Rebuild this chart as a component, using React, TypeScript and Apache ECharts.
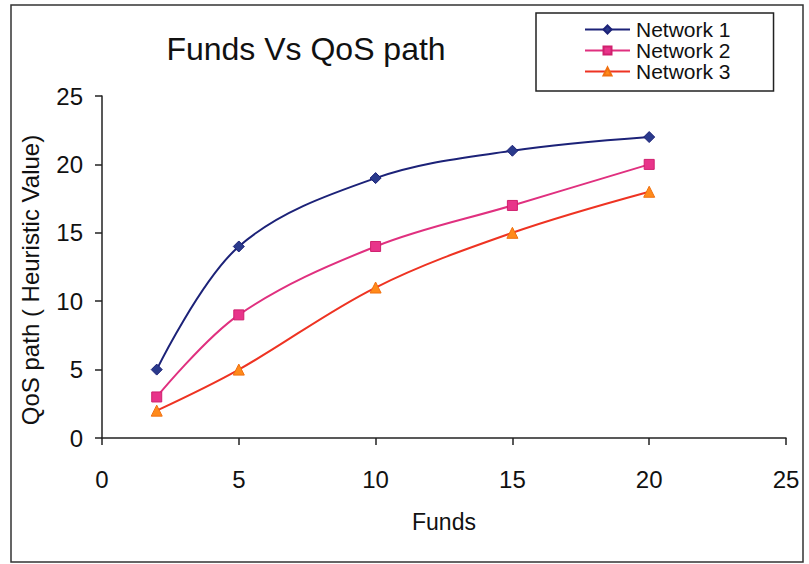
import React, { useEffect, useRef } from "react";
import * as echarts from "echarts";

const funds = [2, 5, 10, 15, 20];
const network1 = [5, 14, 19, 21, 22];
const network2 = [3, 9, 14, 17, 20];
const network3 = [2, 5, 11, 15, 18];
const seriesNames = ["Network 1", "Network 2", "Network 3"];
const titleText = "Funds Vs QoS path";
const xName = "Funds";
const yName = "QoS path ( Heuristic Value)";

const FONT = "'Liberation Sans', Arial, sans-serif";

export default function App() {
  const ref = useRef<HTMLDivElement>(null);
  useEffect(() => {
    if (!ref.current) return;
    const chart = echarts.init(ref.current, undefined, { renderer: "svg" });
    const pair = (vals: number[]) => funds.map((f, i) => [f, vals[i]]);
    chart.setOption({
      animation: false,
      backgroundColor: "#fff",
      title: {
        text: titleText,
        left: 301,
        top: 28,
        textAlign: "center",
        textStyle: { fontFamily: FONT, fontSize: 32, fontWeight: "normal", color: "#111" },
      },
      legend: {
        orient: "vertical",
        left: 536,
        top: 13,
        padding: [6, 43, 9, 48],
        itemGap: 0,
        itemWidth: 45,
        itemHeight: 10,
        borderColor: "#222",
        borderWidth: 1.5,
        textStyle: { fontFamily: FONT, fontSize: 21, lineHeight: 19.5, color: "#111", padding: [0, 0, 0, 1] },
        data: seriesNames,
      },
      grid: { left: 102, right: 23, top: 96, bottom: 126 },
      xAxis: {
        type: "value",
        min: 0,
        max: 25,
        interval: 5,
        name: xName,
        nameLocation: "middle",
        nameGap: 72,
        nameTextStyle: { fontFamily: FONT, fontSize: 23, color: "#111" },
        axisLine: { show: true, lineStyle: { color: "#222", width: 1.5 } },
        axisTick: { show: true, length: 7, lineStyle: { color: "#222", width: 1.5 } },
        axisLabel: { fontFamily: FONT, fontSize: 24, color: "#111", margin: 29 },
        splitLine: { show: false },
      },
      yAxis: {
        type: "value",
        min: 0,
        max: 25,
        interval: 5,
        name: yName,
        nameLocation: "middle",
        nameGap: 60,
        nameTextStyle: { fontFamily: FONT, fontSize: 24, color: "#111", padding: [0, 26, 0, 0] },
        axisLine: { show: true, lineStyle: { color: "#222", width: 1.5 } },
        axisTick: { show: true, length: 7, lineStyle: { color: "#222", width: 1.5 } },
        axisLabel: { fontFamily: FONT, fontSize: 24, color: "#111", margin: 19 },
        splitLine: { show: false },
      },
      series: [
        {
          name: seriesNames[0],
          type: "line",
          smooth: 0.35,
          data: pair(network1),
          symbol: "diamond",
          symbolSize: 11,
          lineStyle: { color: "#1c2278", width: 2 },
          itemStyle: { color: "#2a3a8c", borderColor: "#1c2278", borderWidth: 1 },
        },
        {
          name: seriesNames[1],
          type: "line",
          smooth: 0.35,
          data: pair(network2),
          symbol: "rect",
          symbolSize: 10,
          lineStyle: { color: "#e0307f", width: 2 },
          itemStyle: { color: "#e8348a", borderColor: "#d0206e", borderWidth: 1 },
        },
        {
          name: seriesNames[2],
          type: "line",
          smooth: 0.35,
          data: pair(network3),
          symbol: "triangle",
          symbolSize: 11,
          lineStyle: { color: "#ee3322", width: 2 },
          itemStyle: { color: "#ff8a1a", borderColor: "#f07010", borderWidth: 1 },
        },
      ],
      graphic: [
        {
          type: "rect",
          shape: { x: 11, y: 5, width: 792, height: 557 },
          style: { fill: "none", stroke: "#333", lineWidth: 1.5 },
          silent: true,
          z: 10,
        },
      ],
    });
    return () => chart.dispose();
  }, []);
  return (
    <div
      ref={ref}
      style={{ position: "absolute", left: 0, top: 0, width: 809, height: 564 }}
    />
  );
}
